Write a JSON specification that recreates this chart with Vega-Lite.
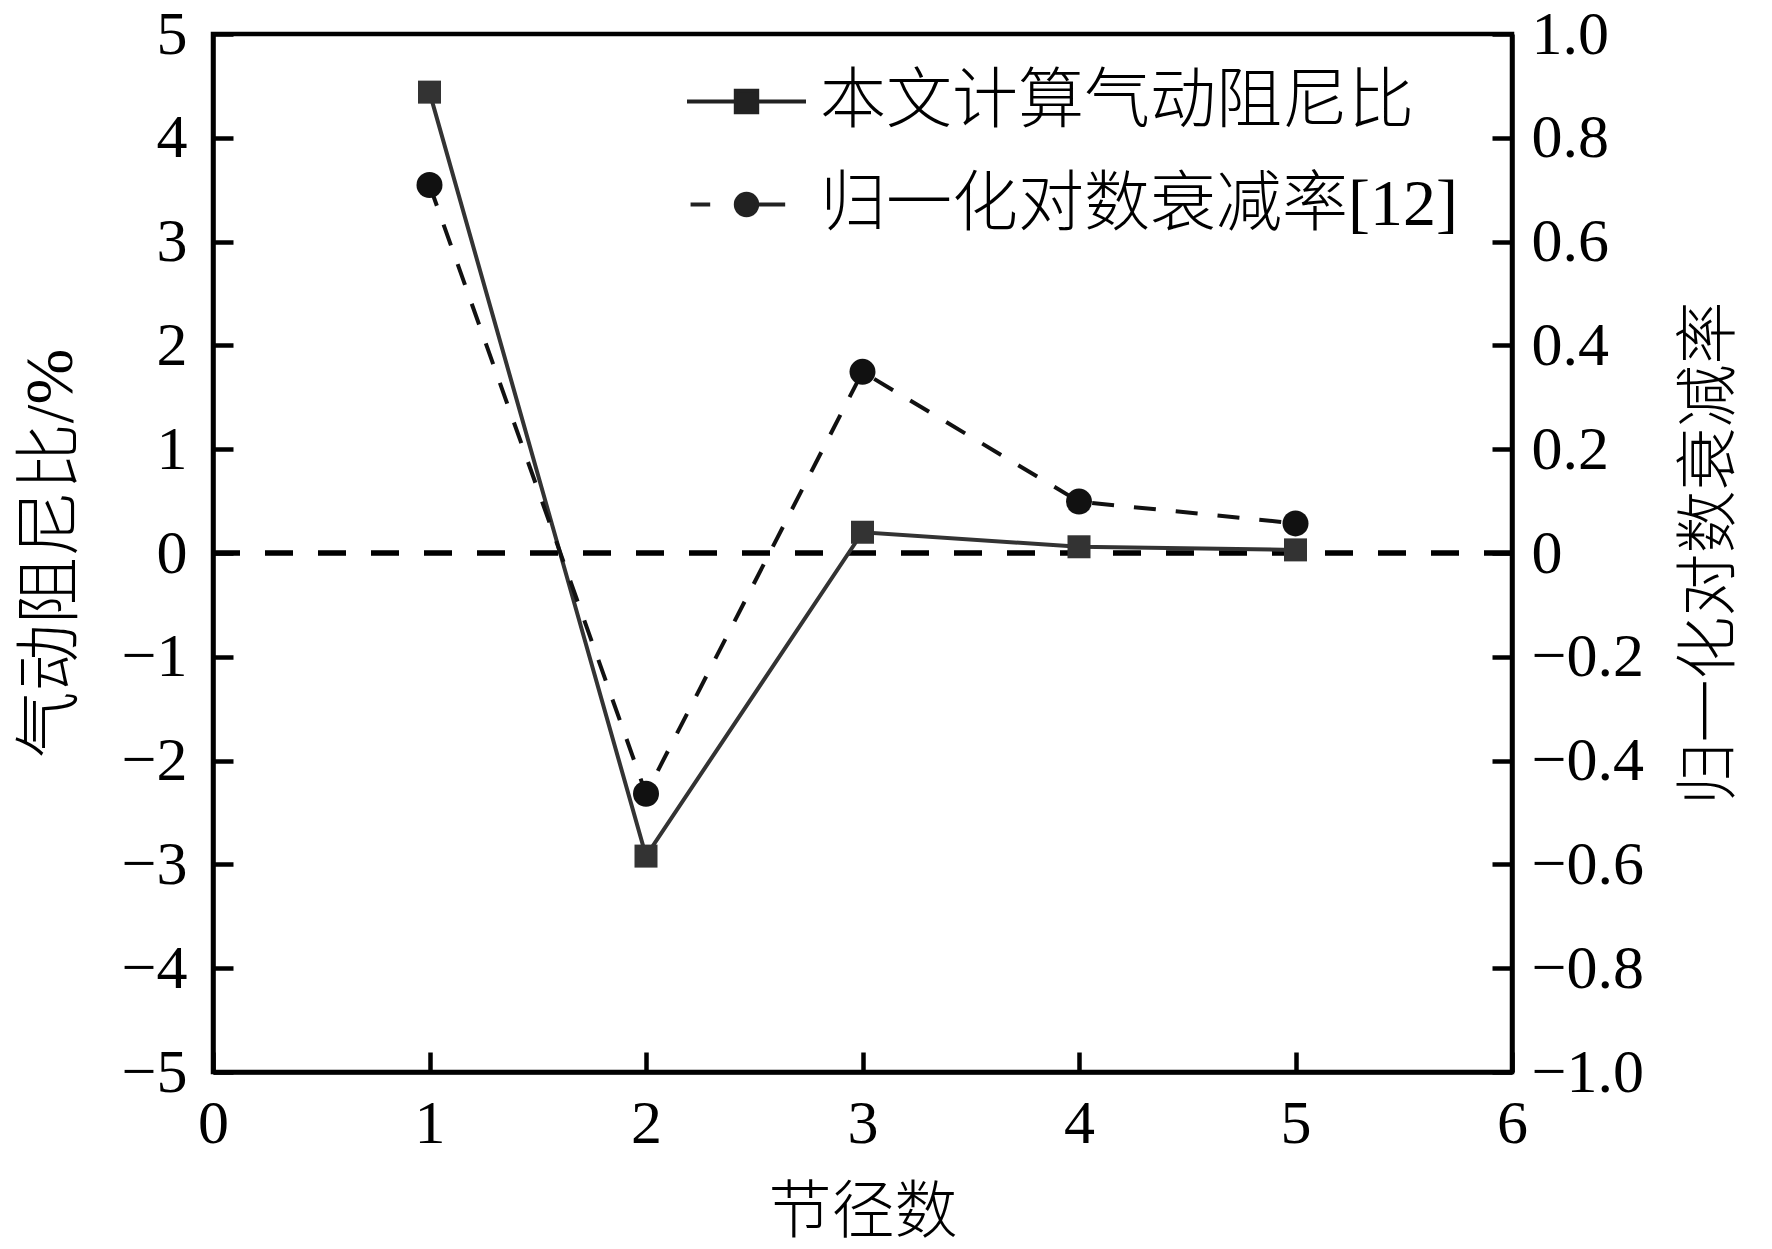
{
  "$schema": "https://vega.github.io/schema/vega-lite/v6.json",
  "width": 1299,
  "height": 1038,
  "autosize": "none",
  "padding": {"left": 213, "top": 34, "right": 260, "bottom": 177},
  "background": "white",
  "config": {
    "view": {"stroke": "black", "strokeWidth": 4.5},
    "axis": {
      "grid": false,
      "domainColor": "black",
      "domainWidth": 4.5,
      "tickColor": "black",
      "tickWidth": 4.5,
      "tickSize": -20,
      "labelFont": "Liberation Serif",
      "labelFontSize": 62,
      "labelColor": "black",
      "labelFlush": false,
      "titleFont": "Liberation Serif, Noto Sans CJK SC",
      "titleFontSize": 63,
      "titleFontWeight": 300,
      "titleColor": "black"
    }
  },
  "data": {
    "values": [
      {"n": 1, "series": "本文计算气动阻尼比", "value": 4.44},
      {"n": 2, "series": "本文计算气动阻尼比", "value": -2.92},
      {"n": 3, "series": "本文计算气动阻尼比", "value": 0.2},
      {"n": 4, "series": "本文计算气动阻尼比", "value": 0.06},
      {"n": 5, "series": "本文计算气动阻尼比", "value": 0.03},
      {"n": 1, "series": "归一化对数衰减率[12]", "value": 0.709},
      {"n": 2, "series": "归一化对数衰减率[12]", "value": -0.464},
      {"n": 3, "series": "归一化对数衰减率[12]", "value": 0.349},
      {"n": 4, "series": "归一化对数衰减率[12]", "value": 0.099},
      {"n": 5, "series": "归一化对数衰减率[12]", "value": 0.057}
    ]
  },
  "layer": [
    {
      "transform": [{"filter": "datum.series === '本文计算气动阻尼比'"}],
      "layer": [
        {
          "mark": {"type": "rule", "color": "black", "strokeWidth": 4.5, "strokeDash": [28, 25]},
          "encoding": {
            "y": {"datum": 0, "type": "quantitative", "title": "气动阻尼比/%"}
          }
        },
        {
          "mark": {"type": "line", "color": "#333333", "strokeWidth": 4},
          "encoding": {
            "x": {"field": "n", "type": "quantitative", "scale": {"domain": [0, 6]}, "axis": {"values": [0, 1, 2, 3, 4, 5, 6], "format": "d", "labelPadding": 41, "title": "节径数", "titlePadding": 27}},
            "y": {"field": "value", "type": "quantitative", "scale": {"domain": [-5, 5]}, "title": "气动阻尼比/%", "axis": {"orient": "left", "values": [-5, -4, -3, -2, -1, 0, 1, 2, 3, 4, 5], "format": "d", "labelPadding": 46, "titlePadding": 36, "titleFontSize": 67}}
          }
        },
        {
          "mark": {"type": "point", "shape": "square", "filled": true, "size": 529, "color": "#333333", "opacity": 1},
          "encoding": {
            "x": {"field": "n", "type": "quantitative", "scale": {"domain": [0, 6]}, "axis": {"values": [0, 1, 2, 3, 4, 5, 6], "format": "d", "labelPadding": 41, "title": "节径数", "titlePadding": 27}},
            "y": {"field": "value", "type": "quantitative", "title": "气动阻尼比/%"}
          }
        }
      ]
    },
    {
      "transform": [{"filter": "datum.series === '归一化对数衰减率[12]'"}],
      "layer": [
        {
          "mark": {"type": "line", "color": "#111111", "strokeWidth": 4, "strokeDash": [22, 20]},
          "encoding": {
            "x": {"field": "n", "type": "quantitative", "scale": {"domain": [0, 6]}, "axis": {"values": [0, 1, 2, 3, 4, 5, 6], "format": "d", "labelPadding": 41, "title": "节径数", "titlePadding": 27}},
            "y": {"field": "value", "type": "quantitative", "scale": {"domain": [-1, 1]}, "title": "归一化对数衰减率", "axis": {"orient": "right", "values": [-1, -0.8, -0.6, -0.4, -0.2, 0, 0.2, 0.4, 0.6, 0.8, 1], "labelExpr": "datum.value == 0 ? '0' : format(datum.value, '.1f')", "labelPadding": 39, "titlePadding": 98, "titleAngle": 270}}
          }
        },
        {
          "mark": {"type": "point", "shape": "circle", "filled": true, "size": 676, "color": "#111111", "opacity": 1},
          "encoding": {
            "x": {"field": "n", "type": "quantitative", "scale": {"domain": [0, 6]}, "axis": {"values": [0, 1, 2, 3, 4, 5, 6], "format": "d", "labelPadding": 41, "title": "节径数", "titlePadding": 27}},
            "y": {"field": "value", "type": "quantitative", "title": "归一化对数衰减率"}
          }
        }
      ]
    },
    {
      "mark": {"type": "point", "filled": true, "opacity": 0, "color": "#222222", "stroke": "#222222", "strokeWidth": 4},
      "encoding": {
        "x": {"field": "n", "type": "quantitative", "scale": {"domain": [0, 6]}, "axis": {"values": [0, 1, 2, 3, 4, 5, 6], "format": "d", "labelPadding": 41, "title": "节径数", "titlePadding": 27}},
        "shape": {
          "field": "series",
          "type": "nominal",
          "scale": {
            "domain": ["本文计算气动阻尼比", "归一化对数衰减率[12]"],
            "range": [
              "M-1,0H1M-0.18,-0.18H0.18V0.18H-0.18Z",
              "M-0.94,0H-0.61M0.2,0H0.65M0.18,0A0.18,0.18,0,1,1,-0.18,0A0.18,0.18,0,1,1,0.18,0Z"
            ]
          },
          "legend": {
            "orient": "none",
            "legendX": 472,
            "legendY": 6,
            "title": null,
            "padding": 0,
            "symbolSize": 14161,
            "symbolStrokeWidth": 4,
            "labelFont": "Liberation Serif, Noto Sans CJK SC",
            "labelFontSize": 66,
            "labelFontWeight": 300,
            "labelColor": "black",
            "labelOffset": 12,
            "labelLimit": 0,
            "rowPadding": 8,
            "encode": {
              "symbols": {
                "update": {
                  "size": {"value": 14161},
                  "fill": {"value": "#222222"},
                  "stroke": {"value": "#222222"},
                  "strokeWidth": {"value": 4},
                  "opacity": {"value": 1}
                }
              }
            }
          }
        }
      }
    }
  ],
  "resolve": {"scale": {"y": "independent"}, "axis": {"y": "independent"}}
}
